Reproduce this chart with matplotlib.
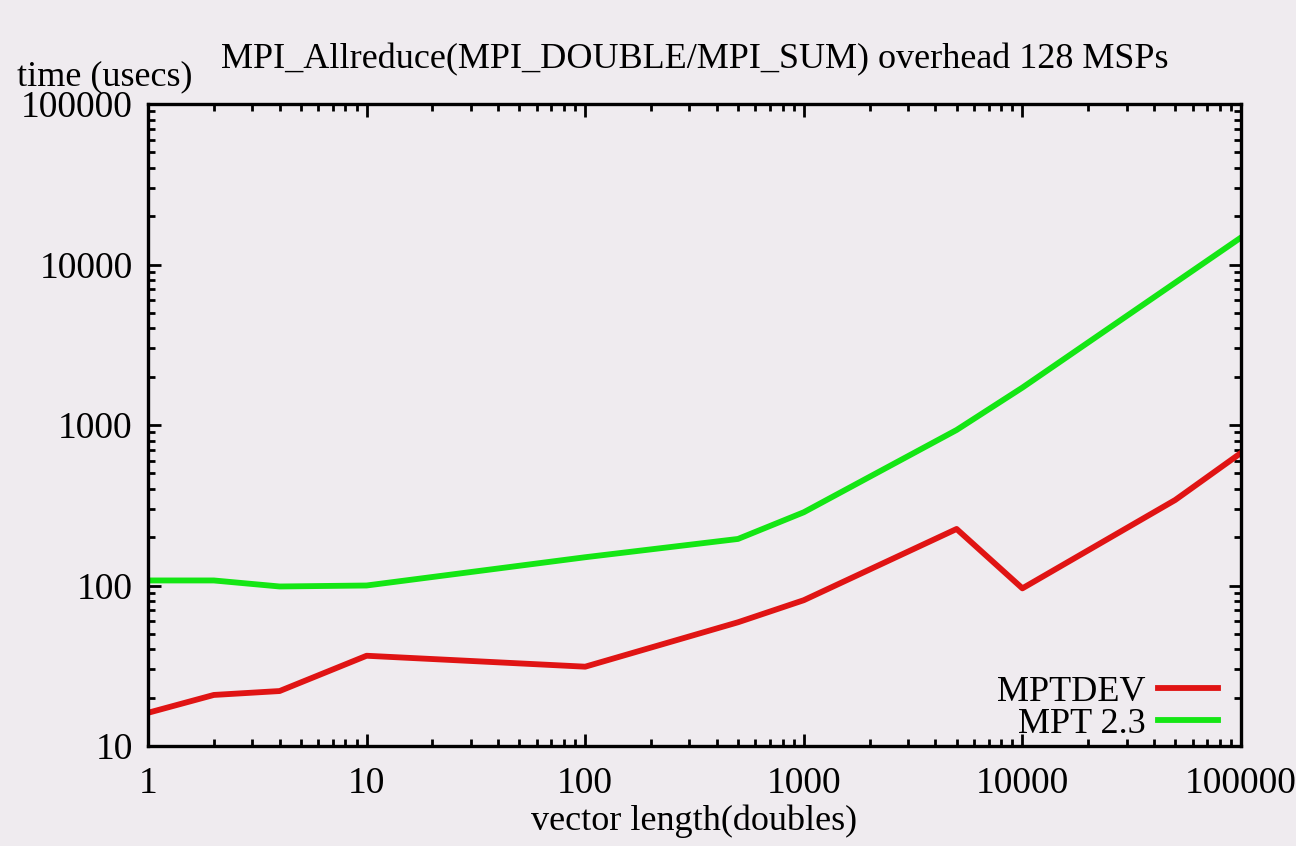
import matplotlib
matplotlib.use("Agg")
import matplotlib.pyplot as plt
from matplotlib.ticker import LogLocator, FixedLocator, NullFormatter

# vector length (doubles) and measured overhead (usecs)
mptdev_len = [1, 2, 4, 10, 100, 500, 1000, 5000, 10000, 50000, 100000]
mptdev_time = [16.1, 20.8, 22.0, 36.5, 31.2, 59, 81, 225, 96, 341, 670]

mpt23_len = [1, 2, 4, 10, 100, 500, 1000, 5000, 10000, 100000]
mpt23_time = [107.5, 107.5, 98.6, 100, 150, 195, 286, 931, 1710, 14730]

xticks = [1, 10, 100, 1000, 10000, 100000]
yticks = [10, 100, 1000, 10000, 100000]

bg = '#efebef'
plt.rcParams['font.family'] = ['Liberation Serif', 'DejaVu Serif']
fs = 26
tfs = 27

fig = plt.figure(figsize=(12.96, 8.46), dpi=100, facecolor=bg)
ax = fig.add_axes([148/1296, 1-746/846, (1241-148)/1296, (746-104)/846])
ax.set_facecolor(bg)

ax.plot(mptdev_len, mptdev_time, color='#e01414', lw=4.2, label='MPTDEV')
ax.plot(mpt23_len, mpt23_time, color='#14e614', lw=4.2, label='MPT 2.3')

ax.set_xscale('log')
ax.set_yscale('log')
ax.set_xlim(1, 100000)
ax.set_ylim(10, 100000)
ax.xaxis.set_major_locator(FixedLocator(xticks))
ax.yaxis.set_major_locator(FixedLocator(yticks))
ax.set_xticklabels([str(v) for v in xticks])
ax.set_yticklabels([str(v) for v in yticks])
ax.xaxis.set_minor_locator(LogLocator(base=10, subs=range(2, 10), numticks=20))
ax.yaxis.set_minor_locator(LogLocator(base=10, subs=range(2, 10), numticks=20))
ax.xaxis.set_minor_formatter(NullFormatter())
ax.yaxis.set_minor_formatter(NullFormatter())

ax.tick_params(which='both', direction='in', top=True, right=True, width=2, colors='black', labelsize=tfs)
ax.tick_params(which='major', length=9)
ax.tick_params(which='minor', length=5)
ax.tick_params(axis='x', which='major', pad=15)
ax.tick_params(axis='y', which='major', pad=11)
for s in ax.spines.values():
    s.set_linewidth(2.4)

ax.set_xlabel('vector length(doubles)', fontsize=fs, labelpad=2)

fig.text(695/1296, 1-68/846, 'MPI_Allreduce(MPI_DOUBLE/MPI_SUM) overhead 128 MSPs',
         ha='center', va='baseline', fontsize=fs)
fig.text(17/1296, 1-85/846, 'time (usecs)', ha='left', va='baseline', fontsize=fs)

ax.legend(loc='lower right', frameon=False, markerfirst=False, fontsize=fs,
          handlelength=1.65, handletextpad=0.35, labelspacing=-0.04,
          borderpad=0, borderaxespad=0, bbox_to_anchor=(0.979, 0.008))

fig.savefig('out.png', dpi=100, facecolor=bg)
